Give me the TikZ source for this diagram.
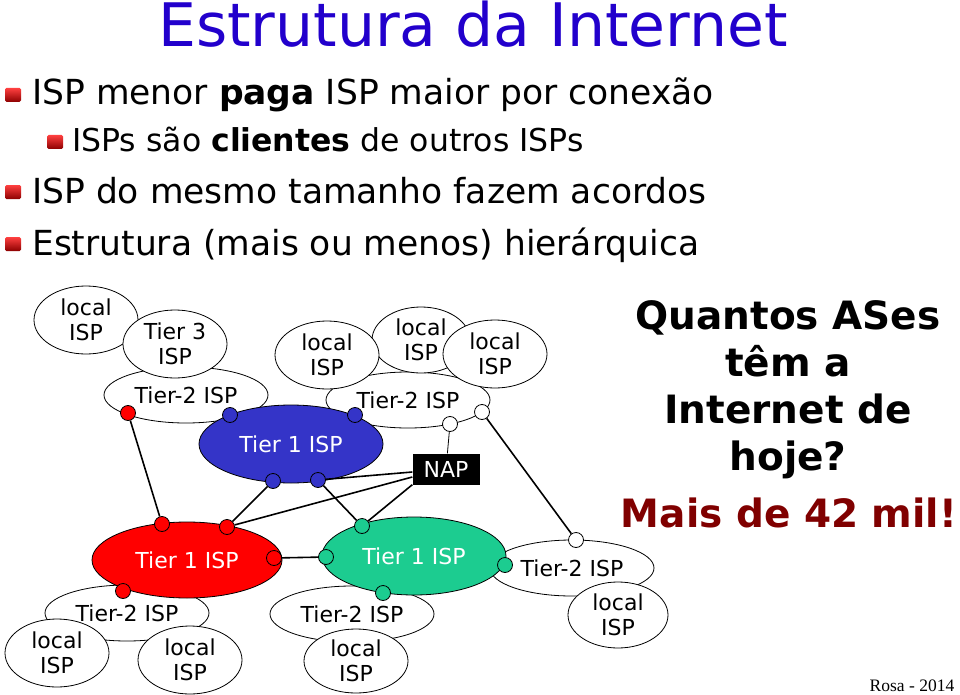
\documentclass[tikz,border=0pt]{standalone}
\usepackage{fontspec}
\setmainfont{DejaVu Sans}
\newfontfamily\serifrm{Liberation Serif}
\usetikzlibrary{shapes.geometric}

\definecolor{titleblue}{RGB}{34,0,204}
\definecolor{t1blue}{RGB}{52,52,200}
\definecolor{t1red}{RGB}{255,0,0}
\definecolor{t1green}{RGB}{28,204,144}
\definecolor{answerred}{RGB}{128,0,0}

\newcommand{\diagfont}{\fontsize{22}{25}\selectfont}
\newcommand{\redbullet}[2]{%
  \shade[top color=red!75!white, bottom color=red!55!black, rounded corners=1.5pt]
    (#1,#2) rectangle +(16,14);}

\tikzset{
  isp/.style={ellipse, draw, fill=white, line width=0.8pt, inner sep=0pt,
    align=center, font=\diagfont},
  localisp/.style={isp, minimum width=104, minimum height=68},
  tiertwo/.style={isp, minimum width=164, minimum height=56},
  tierone/.style={isp, text=white, minimum width=184, minimum height=78},
  port/.style={circle, draw, line width=0.8pt, inner sep=0pt, minimum size=15},
  link/.style={line width=1.6pt},
  bullettext/.style={anchor=base west, inner sep=0pt, font=\fontsize{34.5}{40}\selectfont},
}

\begin{document}
\begin{tikzpicture}[x=1pt,y=-1pt]
  \useasboundingbox (0,0) rectangle (960,695);

  % title and bullets
  \node (title) at (473,47) [anchor=base, inner sep=0pt, text=titleblue,
    font=\fontsize{60}{66}\selectfont] {Estrutura da Internet};
  \redbullet{5}{88}
  \node (b1) at (32,105) [bullettext] {ISP menor \textbf{paga} ISP maior por conexão};
  \redbullet{47}{135}
  \node (b2) at (72,152) [bullettext, font=\fontsize{31.5}{36}\selectfont]
    {ISPs são \textbf{clientes} de outros ISPs};
  \redbullet{5}{185}
  \node (b3) at (32,203) [bullettext] {ISP do mesmo tamanho fazem acordos};
  \redbullet{5}{237}
  \node (b4) at (32,255) [bullettext] {Estrutura (mais ou menos) hierárquica};

  % top left
  \node[localisp] (l1) at (86,320) {local\\ISP};
  \node[tiertwo] (t2a) at (186,395) {Tier-2 ISP};
  \node[localisp] (t3) at (175,344) {Tier 3\\ISP};

  % top middle
  \node[tiertwo] (t2b) at (408,400) {Tier-2 ISP};
  \node[localisp, minimum width=98, minimum height=66] (l3) at (421,340) {local\\ISP};
  \node[localisp] (l2) at (327,355) {local\\ISP};
  \node[localisp] (l4) at (495,354) {local\\ISP};
  \node[tierone, fill=t1blue] (blue) at (291,444) {Tier 1 ISP};

  % bottom left
  \node[tiertwo] (t2c) at (127,613) {Tier-2 ISP};
  \node[localisp] (l5) at (57,653) {local\\ISP};
  \node[localisp] (l6) at (190,660) {local\\ISP};
  \node[tierone, fill=t1red, minimum width=190, minimum height=76] (red) at (187,560) {Tier 1 ISP};

  % bottom middle and right
  \node[tiertwo] (t2d) at (352,614) {Tier-2 ISP};
  \node[localisp, minimum height=64] (l7) at (356,661) {local\\ISP};
  \node[tiertwo] (t2e) at (572,568) {Tier-2 ISP};
  \node[localisp, minimum width=100, minimum height=66] (l8) at (618,615) {local\\ISP};
  \node[tierone, fill=t1green] (green) at (414,556) {Tier 1 ISP};

  \node[fill=black, text=white, font=\diagfont, inner sep=0pt,
    minimum width=67, minimum height=31] (nap) at (446,469) {NAP};

  % ports
  \node[port, fill=t1red] (pa) at (128,413) {};
  \node[port, fill=t1blue] (pb) at (230,415) {};
  \node[port, fill=t1blue] (pc) at (355,415) {};
  \node[port, fill=t1blue] (pd) at (273,481) {};
  \node[port, fill=t1blue] (pe) at (318,480) {};
  \node[port, fill=white] (pf) at (450,424) {};
  \node[port, fill=white] (pg) at (482,412) {};
  \node[port, fill=t1red] (ph) at (162,524) {};
  \node[port, fill=t1red] (pi) at (227,527) {};
  \node[port, fill=t1red] (pj) at (274,558) {};
  \node[port, fill=t1red] (pk) at (123,591) {};
  \node[port, fill=t1green] (pl) at (362,526) {};
  \node[port, fill=t1green] (pm) at (326,557) {};
  \node[port, fill=t1green] (pn) at (383,593) {};
  \node[port, fill=t1green] (po) at (505,565) {};
  \node[port, fill=white] (pp) at (576,540) {};

  % links
  \draw[link] (pa) -- (ph);
  \draw[link] (pd) -- (pi);
  \draw[link] (pe) -- (pl);
  \draw[link] (pj) -- (pm);
  \draw[link] (pg) -- (pp);
  \draw[line width=0.8pt] (pf) -- (nap);
  \draw[link] ([yshift=-3pt]nap.west) -- (pe);
  \draw[link] ([yshift=-8pt]nap.west) -- (pi);
  \draw[link] (nap.south west) -- (pl);

  % question
  \node (ask) at (788,390) [align=center, inner sep=0pt,
    font=\fontsize{39}{47}\selectfont\bfseries] {Quantos ASes\\têm a\\Internet de\\hoje?};
  \node (reply) at (789,527) [anchor=base, inner sep=0pt, text=answerred,
    font=\fontsize{39}{44}\selectfont\bfseries] {Mais de 42 mil!};
  \node (credit) at (912,691) [anchor=base, inner sep=0pt,
    font=\serifrm\fontsize{17.5}{20}\selectfont] {Rosa - 2014};
\end{tikzpicture}
\end{document}
